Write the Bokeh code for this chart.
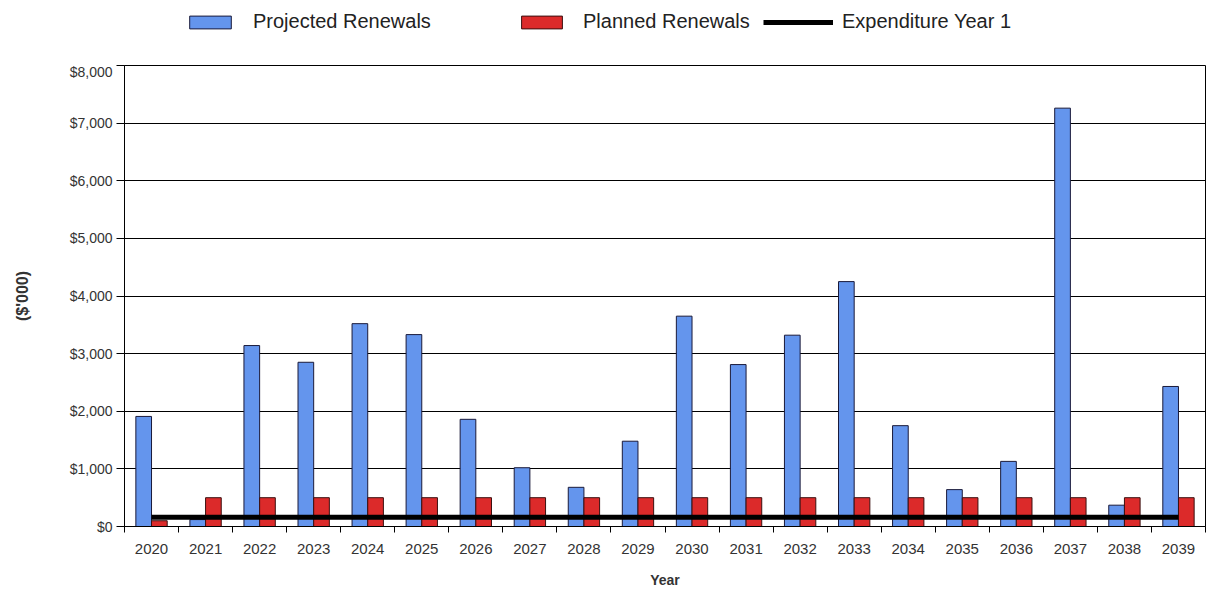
from bokeh.plotting import figure
from bokeh.layouts import column
from bokeh.models import (ColumnDataSource, Range1d, FixedTicker, Legend, LegendItem,
                          NumeralTickFormatter)
from bokeh.transform import dodge
from bokeh.embed import file_html
from bokeh.resources import INLINE

years = ["2020", "2021", "2022", "2023", "2024", "2025", "2026", "2027", "2028", "2029",
         "2030", "2031", "2032", "2033", "2034", "2035", "2036", "2037", "2038", "2039"]
projected = [1910, 120, 3140, 2850, 3520, 3330, 1860, 1020, 680, 1480,
             3650, 2810, 3320, 4250, 1750, 640, 1130, 7260, 370, 2430]
planned = [100, 500, 500, 500, 500, 500, 500, 500, 500, 500,
           500, 500, 500, 500, 500, 500, 500, 500, 500, 500]
expenditure_year1 = [160] * 20
y_ticks = [0, 1000, 2000, 3000, 4000, 5000, 6000, 7000, 8000]
y_max = 8000

FONT = "Liberation Sans"
BLUE, RED = "#6495ED", "#DC2A2A"
BLUE_EDGE, RED_EDGE = "#1a1a3a", "#3a1010"
n = len(years)
xpos = [i + 0.5 for i in range(n)]
src = ColumnDataSource(dict(x=xpos, year=years, projected=projected,
                            planned=planned, exp=expenditure_year1))

W, H = 1207, 590
LEG_H = 63
FL, FR, FT, FB = 124, 1205, 65, 527

# ---------------- main chart ----------------
p = figure(width=W, height=H - LEG_H, output_backend="svg", toolbar_location=None,
           x_range=Range1d(0, n), y_range=Range1d(0, y_max),
           min_border_left=FL, min_border_right=W - FR, min_border_bottom=H - FB,
           min_border_top=FT - LEG_H)
p.background_fill_color = "white"
p.border_fill_color = "white"
p.outline_line_color = "black"
p.outline_line_width = 1

bw = 0.29
r1 = p.vbar(x=dodge("x", -bw / 2, range=p.x_range), top="projected", width=bw, source=src,
            fill_color=BLUE, line_color=BLUE_EDGE, line_width=1)
r2 = p.vbar(x=dodge("x", bw / 2, range=p.x_range), top="planned", width=bw, source=src,
            fill_color=RED, line_color=RED_EDGE, line_width=1)
r3 = p.line(x="x", y="exp", source=src, line_color="black", line_width=5)

xa = p.xaxis[0]
xa.ticker = FixedTicker(ticks=xpos, minor_ticks=list(range(n + 1)))
xa.major_label_overrides = {x: y for x, y in zip(xpos, years)}
xa.major_tick_out = 0
xa.major_tick_in = 0
xa.minor_tick_out = 6
xa.minor_tick_in = 0
xa.minor_tick_line_color = "black"
xa.axis_line_color = "black"
xa.major_label_text_font = FONT
xa.major_label_text_font_size = "15px"
xa.major_label_text_color = "#333333"
xa.major_label_standoff = 11
xa.axis_label = "Year"
xa.axis_label_text_font = FONT
xa.axis_label_text_font_style = "bold"
xa.axis_label_text_font_size = "14px"
xa.axis_label_text_color = "#333333"
xa.axis_label_standoff = 15

ya = p.yaxis[0]
ya.ticker = FixedTicker(ticks=y_ticks)
ya.formatter = NumeralTickFormatter(format="$0,0")
ya.major_tick_out = 8
ya.major_tick_in = 0
ya.minor_tick_out = 0
ya.minor_tick_in = 0
ya.major_tick_line_color = "black"
ya.axis_line_color = "black"
ya.major_label_text_font = FONT
ya.major_label_text_font_size = "14px"
ya.major_label_text_color = "#333333"
ya.major_label_standoff = 4
ya.axis_label = "($'000)"
ya.axis_label_text_font = FONT
ya.axis_label_text_font_style = "bold"
ya.axis_label_text_font_size = "16px"
ya.axis_label_text_color = "#333333"
ya.axis_label_standoff = 36

p.xgrid.grid_line_color = None
p.ygrid.ticker = FixedTicker(ticks=y_ticks)
p.ygrid.grid_line_color = "black"
p.ygrid.grid_line_width = 1

# ---------------- legend strip ----------------
lg = figure(width=W, height=LEG_H, output_backend="svg", toolbar_location=None,
            x_axis_type=None, y_axis_type=None, x_range=Range1d(0, 1), y_range=Range1d(0, 1),
            min_border=0)
lg.outline_line_color = None
lg.background_fill_color = "white"
lg.border_fill_color = "white"
lg.xgrid.grid_line_color = None
lg.ygrid.grid_line_color = None
# legend keys share the chart's styles; they are hidden in this strip
k1 = lg.vbar(x="x", top="projected", width=bw, source=src,
             fill_color=BLUE, line_color=BLUE_EDGE, line_width=1, visible=False)
k2 = lg.vbar(x="x", top="planned", width=bw, source=src,
             fill_color=RED, line_color=RED_EDGE, line_width=1, visible=False)
k3 = lg.line(x="x", y="exp", source=src, line_color="black", line_width=5, visible=False)

leg_y = LEG_H - 33


def add_legend(label, rend, x0, gw, standoff):
    leg = Legend(items=[LegendItem(label=label, renderers=[rend])],
                 location=(x0 - FL, leg_y),
                 glyph_width=gw, glyph_height=16, label_standoff=standoff,
                 label_text_font=FONT, label_text_font_size="20px",
                 label_text_color="#222222", inactive_fill_alpha=0,
                 border_line_color=None, background_fill_alpha=0, padding=0, margin=0)
    lg.add_layout(leg, "center")


add_legend("Projected Renewals", k1, 184, 52, 17)
add_legend("Planned Renewals", k2, 516, 51, 16)
add_legend("Expenditure Year 1", k3, 763, 70, 9)

layout = column(lg, p, spacing=0)
open("out.html", "w").write(file_html(layout, INLINE))
